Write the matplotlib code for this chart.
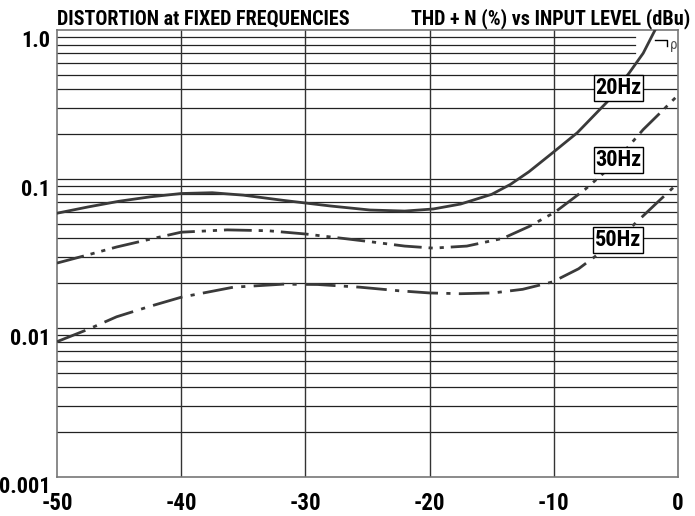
import matplotlib.pyplot as plt
import matplotlib.transforms as mtransforms

plt.rcParams['font.family'] = ['Roboto Condensed', 'Barlow Condensed', 'DejaVu Sans']

# input level (dBu) and THD+N (%)
x_20 = [-50, -47.5, -45, -42.5, -40, -37.5, -35, -31.8, -28, -24.8, -22, -19.7, -17.5, -15, -13.5, -12, -10.1, -8.1, -5.7, -3.9, -2.8, -1.85]
y_20 = [0.059, 0.065, 0.071, 0.076, 0.080, 0.081, 0.078, 0.072, 0.066, 0.062, 0.061, 0.063, 0.068, 0.079, 0.092, 0.112, 0.15, 0.205, 0.33, 0.52, 0.70, 1.0]

x_30 = [-50, -47.5, -45.2, -42.5, -40, -36.3, -33, -30, -27, -24.8, -22, -19.7, -17, -14.1, -12, -9.9, -7.5, -5.7, -4, -2.8, -1.4, 0]
y_30 = [0.0273, 0.031, 0.035, 0.0395, 0.044, 0.0456, 0.045, 0.0428, 0.040, 0.038, 0.0355, 0.0344, 0.0355, 0.040, 0.048, 0.060, 0.085, 0.115, 0.165, 0.215, 0.28, 0.366]

x_50 = [-50, -47.5, -45.2, -42.5, -40, -35.8, -31.8, -29, -25.6, -22.5, -20, -17.5, -14.9, -12.5, -10.1, -8, -6.3, -4.8, -3.6, -1.8, 0]
y_50 = [0.0081, 0.0098, 0.0119, 0.0140, 0.0161, 0.0188, 0.0197, 0.0196, 0.0188, 0.0178, 0.0172, 0.0170, 0.0172, 0.0182, 0.0204, 0.025, 0.0319, 0.040, 0.049, 0.068, 0.094]

x_ticks = [-50, -40, -30, -20, -10, 0]
y_ticks = [0.001, 0.01, 0.1, 1.0]
y_tick_labels = ['0.001', '0.01', '0.1', '1.0']

fig = plt.figure(figsize=(6.95, 5.16), dpi=100)
ax = fig.add_axes([0.082, 0.0756, 0.8935, 0.866])
ax.set_yscale('log')
ax.set_xlim(-50, 0)
ax.set_ylim(0.001, 1.0)

# horizontal grid, one line per minor decade step
for dec in [0.001, 0.01, 0.1]:
    for m in range(1, 10):
        v = dec * m
        if v <= 0.001:
            continue
        if v >= 0.65:
            ax.axhline(v, xmax=0.93, color='#222222', lw=0.9, zorder=1)
        else:
            ax.axhline(v, color='#222222', lw=0.9, zorder=1)
for xv in x_ticks[1:-1]:
    ax.axvline(xv, color='#333333', lw=1.0, zorder=1)

lc = '#3a3a3a'
ax.plot(x_20, y_20, color=lc, lw=2.0, zorder=3)
ax.plot(x_30, y_30, color=lc, lw=2.0, dashes=[10, 2.5, 1.5, 2.5, 1.5, 2.5], zorder=3)
ax.plot(x_50, y_50, color=lc, lw=2.0, dashes=[11, 3, 1.5, 3], zorder=3)

box = dict(boxstyle='square,pad=0.08', fc='white', ec='black', lw=1.0)
for lab, xv, yv in [('20Hz', -4.8, 0.41), ('30Hz', -4.8, 0.134), ('50Hz', -4.8, 0.039)]:
    ax.text(xv, yv, lab, ha='center', va='center', fontsize=16, fontweight='semibold',
            bbox=box, zorder=5)
ax.plot([-1.85, -0.85, -0.85], [0.86, 0.86, 0.78], color='black', lw=1.0, zorder=4)
ax.text(-0.35, 0.8, 'ρ', ha='center', va='center', fontsize=11, color='#555555', zorder=5)

ax.set_xticks(x_ticks)
ax.set_xticklabels([str(v) for v in x_ticks])
ax.set_yticks(y_ticks)
ax.set_yticklabels(y_tick_labels)
ax.minorticks_off()
ax.tick_params(axis='x', length=0, labelsize=16.5, pad=11)
ax.tick_params(axis='y', length=0, labelsize=16, pad=5)
shift = mtransforms.ScaledTranslation(0, -8 / 100, fig.dpi_scale_trans)
for lab in ax.get_yticklabels():
    lab.set_transform(lab.get_transform() + shift)
for lab in ax.get_xticklabels() + ax.get_yticklabels():
    lab.set_fontweight('semibold')
for s in ax.spines.values():
    s.set_color('#777777')
    s.set_linewidth(1.2)

fig.text(0.082, 0.952, 'DISTORTION at FIXED FREQUENCIES', ha='left', va='baseline',
         fontsize=14.5, fontweight='semibold')
fig.text(0.993, 0.952, 'THD + N (%) vs INPUT LEVEL (dBu)', ha='right', va='baseline',
         fontsize=14.5, fontweight='semibold')

fig.savefig('out.png', dpi=100)
